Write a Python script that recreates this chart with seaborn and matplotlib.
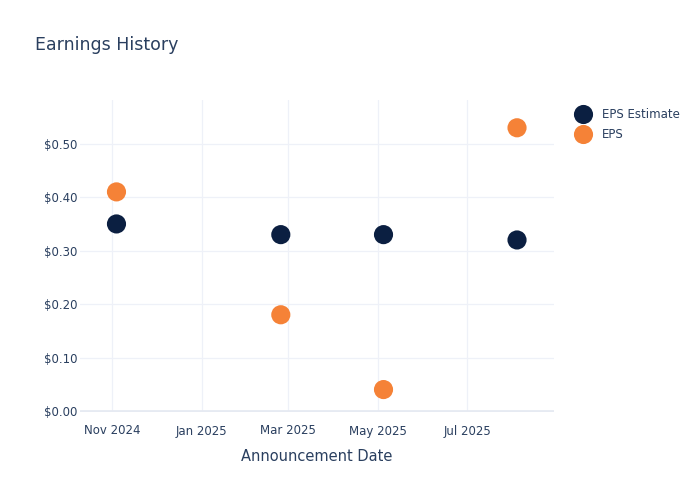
import pandas as pd
import matplotlib.pyplot as plt
import matplotlib.dates as mdates
from matplotlib.ticker import FuncFormatter
import seaborn as sns

# data
dates = ['2024-11-04', '2025-02-24', '2025-05-05', '2025-08-04']
eps_estimate = [0.35, 0.33, 0.33, 0.32]
eps_actual = [0.41, 0.18, 0.04, 0.53]
series_names = ['EPS Estimate', 'EPS']
series_colors = ['#0b1f41', '#f58237']

df = pd.DataFrame({
    'Announcement Date': pd.to_datetime(dates * 2),
    'Value': eps_estimate + eps_actual,
    'Series': [series_names[0]] * 4 + [series_names[1]] * 4,
})

sns.set_style('white')
plt.rcParams['font.family'] = ['DejaVu Sans']
text_color = '#2a3f5f'
grid_color = '#eef1f8'

fig = plt.figure(figsize=(7, 5), dpi=100)
ax = fig.add_axes([0.114, 0.176, 0.677, 0.624])

sns.scatterplot(data=df, x='Announcement Date', y='Value', hue='Series',
                palette=dict(zip(series_names, series_colors)), s=190,
                edgecolor='none', ax=ax, zorder=3)

ax.set_xlim(pd.Timestamp('2024-10-10'), pd.Timestamp('2025-08-29'))
ax.set_ylim(-0.002, 0.582)
ax.xaxis.set_major_locator(mdates.MonthLocator(bymonth=[1, 3, 5, 7, 11]))
ax.xaxis.set_major_formatter(mdates.DateFormatter('%b %Y'))
ax.set_yticks([0, 0.1, 0.2, 0.3, 0.4, 0.5])
ax.yaxis.set_major_formatter(FuncFormatter(lambda v, p: f'${v:.2f}'))

ax.grid(True, color=grid_color, linewidth=0.9)
ax.axhline(0, color='#e6eaf2', linewidth=2, zorder=1)
for s in ax.spines.values():
    s.set_visible(False)
ax.tick_params(axis='both', length=0, labelsize=8.5, colors=text_color)
ax.tick_params(axis='x', pad=9)
ax.tick_params(axis='y', pad=1.5)

ax.set_xlabel('Announcement Date', fontsize=10.5, color=text_color, labelpad=8)
ax.set_ylabel('')
fig.text(0.05, 0.9, 'Earnings History', fontsize=12.5, color=text_color)

leg = ax.legend(loc='upper left', bbox_to_anchor=(1.028, 0.99), frameon=False,
                fontsize=8.5, handletextpad=0.55, labelspacing=0.6,
                markerscale=1.0, borderaxespad=0)
for t in leg.get_texts():
    t.set_color(text_color)

plt.savefig('out.png', dpi=100)
